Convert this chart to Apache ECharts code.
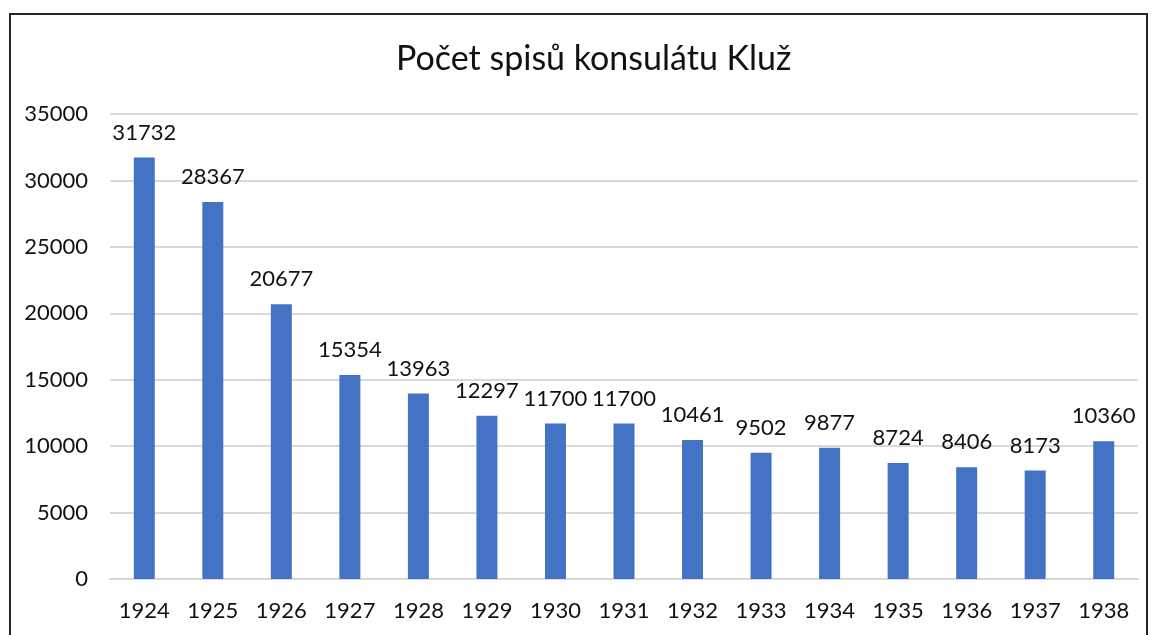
<!DOCTYPE html>
<html>
<head>
<meta charset="utf-8">
<script src="https://cdn.jsdelivr.net/npm/echarts@6/dist/echarts.min.js"></script>
<style>
  html, body { margin: 0; padding: 0; background: #fff; }
  #chart { width: 1156px; height: 635px; }
</style>
</head>
<body>
<div id="chart"></div>
<script>
// Počet spisů konsulátu Kluž — yearly file counts, 1924–1938
const years = ['1924', '1925', '1926', '1927', '1928', '1929', '1930', '1931',
               '1932', '1933', '1934', '1935', '1936', '1937', '1938'];
const counts = [31732, 28367, 20677, 15354, 13963, 12297, 11700, 11700,
                10461, 9502, 9877, 8724, 8406, 8173, 10360];
const yTicks = [0, 5000, 10000, 15000, 20000, 25000, 30000, 35000];

const FONT = 'Lato, "Open Sans", sans-serif';
const INK = '#111';

const chart = echarts.init(document.getElementById('chart'), null, { renderer: 'canvas' });
chart.setOption({
  backgroundColor: '#fff',
  animation: false,
  title: {
    text: 'Počet spisů konsulátu Kluž',
    left: 391,
    top: 37,
    textStyle: { fontFamily: FONT, fontSize: 34, fontWeight: 'normal', color: INK },
  },
  // outer frame of the chart box (bottom edge runs off the picture)
  graphic: [{
    type: 'rect',
    shape: { x: 10, y: 14, width: 1137, height: 660 },
    style: { fill: null, stroke: '#262626', lineWidth: 2 },
    silent: true,
  }],
  grid: { left: 110, right: 18, top: 114, bottom: 56 },
  xAxis: {
    type: 'category',
    data: years,
    axisLine: { show: true, lineStyle: { color: '#d9d9d9', width: 2 } },
    axisTick: { show: false },
    axisLabel: { fontFamily: FONT, fontSize: 22, color: INK, margin: 21 },
  },
  yAxis: {
    type: 'value',
    min: yTicks[0],
    max: yTicks[yTicks.length - 1],
    interval: 5000,
    axisLine: { show: false },
    axisTick: { show: false },
    splitLine: { lineStyle: { color: '#d9d9d9', width: 2 } },
    axisLabel: {
      fontFamily: FONT, fontSize: 22, color: INK, margin: 22,
      formatter: (v) => String(v),
    },
  },
  series: [{
    type: 'bar',
    data: counts,
    barWidth: 21,
    itemStyle: { color: '#4472c4' },
    label: {
      show: true,
      position: 'top',
      distance: 14,
      fontFamily: FONT,
      fontSize: 22,
      color: INK,
    },
  }],
});
</script>
</body>
</html>
